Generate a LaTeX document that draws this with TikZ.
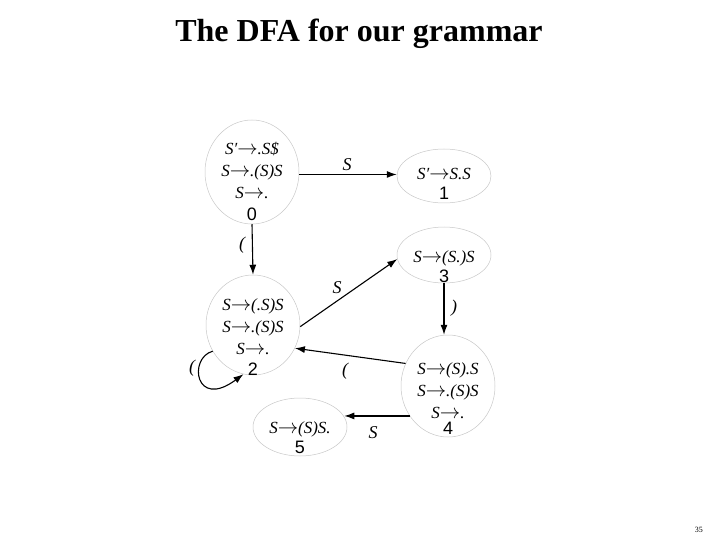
\documentclass[tikz,border=0pt]{standalone}
\usepackage{fontspec}
\usepackage{graphicx}
\setmainfont{Liberation Serif}
\setsansfont{Liberation Sans}
\usetikzlibrary{arrows.meta,shapes.geometric}
\newcommand{\ra}{\resizebox{1.2em}{!}{$\rightarrow$}}
\newcommand{\pr}{′}
\begin{document}
\begin{tikzpicture}[x=1pt,y=-1pt,
  state/.style={ellipse,draw=black!22,line width=0.5pt,inner sep=0pt},
  itm/.style={anchor=base,inner sep=0pt,font=\fontsize{17}{20}\selectfont\itshape},
  num/.style={anchor=base,inner sep=0pt,font=\fontsize{18}{20}\selectfont\sffamily},
  lbl/.style={inner sep=0pt,font=\fontsize{18}{20}\selectfont\itshape},
  arr/.style={-{Latex[length=10pt,width=7pt]},line width=1.1pt}
]
\useasboundingbox (0,0) rectangle (720,540);

\node[anchor=base,inner sep=0pt,font=\fontsize{32}{38}\selectfont\bfseries] (title) at (359,42) {The DFA for our grammar};
\node[anchor=base east,inner sep=0pt,font=\fontsize{8}{10}\selectfont] (pg) at (703,532) {35};

% states
\node[state,minimum width=94pt,minimum height=104pt] (s0) at (252,172) {};
\node[state,minimum width=94pt,minimum height=54pt] (s1) at (444,176) {};
\node[state,minimum width=94pt,minimum height=100pt] (s2) at (253,325) {};
\node[state,minimum width=94pt,minimum height=56pt] (s3) at (444,255) {};
\node[state,minimum width=94pt,minimum height=102pt] (s4) at (448,386) {};
\node[state,minimum width=94pt,minimum height=58pt] (s5) at (300,427) {};

% state texts
\node[itm] (t0a) at (252,155) {S\pr\ra.S\$};
\node[itm] (t0b) at (252,177) {S\ra.(S)S};
\node[itm] (t0c) at (252,199) {S\ra.};
\node[num] (t0d) at (252,221) {0};

\node[itm] (t1a) at (444,180) {S\pr\ra S.S};
\node[num] (t1b) at (444,200) {1};

\node[itm] (t2a) at (253,310) {S\ra(.S)S};
\node[itm] (t2b) at (253,332) {S\ra.(S)S};
\node[itm] (t2c) at (253,354) {S\ra.};
\node[num] (t2d) at (253,375) {2};

\node[itm] (t3a) at (444,262) {S\ra(S.)S};
\node[num] (t3b) at (444,282) {3};

\node[itm] (t4a) at (448,374) {S\ra(S).S};
\node[itm] (t4b) at (448,396) {S\ra.(S)S};
\node[itm] (t4c) at (448,418) {S\ra.};
\node[num] (t4d) at (448,434) {4};

\node[itm] (t5a) at (300,433) {S\ra(S)S.};
\node[num] (t5b) at (300,453) {5};

% transitions
\draw[arr] (s0.-3) -- (s0.-3 -| s1.west);
\draw[arr] (s0.south) -- (s2.north);
\draw[arr] (s2.-2) -- (s3.185);
\draw[arr] (s3.south) -- (s3.south |- s4.north);
\draw[arr] (s4.152) -- (s2.-29);
\draw[arr] (s4.218) -- (s4.218 -| s5.13);
\draw[arr] (s2.213) .. controls (188,358) and (195,410) .. (s2.259);

% labels
\node[lbl] (l01) at (347,165) {S};
\node[lbl] (l02) at (242,245) {(};
\node[lbl] (l23) at (337,288) {S};
\node[lbl] (l34) at (454,308) {)};
\node[lbl] (l42) at (345,371) {(};
\node[lbl] (l45) at (373,433) {S};
\node[lbl] (l22) at (192,368) {(};
\end{tikzpicture}
\end{document}
